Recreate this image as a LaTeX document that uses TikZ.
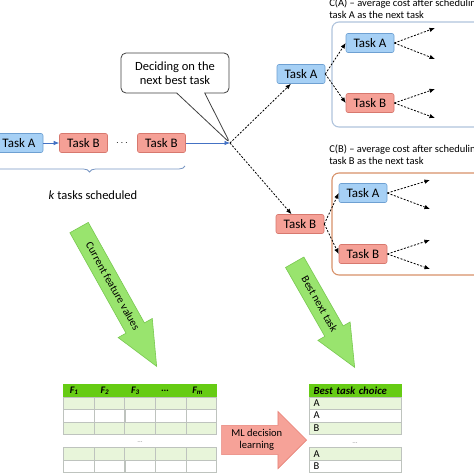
\documentclass[tikz,border=0pt]{standalone}
\usepackage{fontspec}
\setmainfont{Carlito}
\usepackage{tikz}
\usetikzlibrary{arrows, arrows.meta, shapes, matrix, decorations.pathreplacing}

\definecolor{taskblue}{RGB}{166,208,245}
\definecolor{taskblueline}{RGB}{110,160,210}
\definecolor{taskred}{RGB}{245,160,150}
\definecolor{taskredline}{RGB}{215,120,110}
\definecolor{groupaline}{RGB}{175,195,220}
\definecolor{groupbline}{RGB}{215,145,105}
\definecolor{linkblue}{RGB}{68,114,196}
\definecolor{bracecol}{RGB}{120,150,195}
\definecolor{arrowgreen}{RGB}{153,228,110}
\definecolor{arrowgreenline}{RGB}{120,200,80}
\definecolor{hdrgreen}{RGB}{102,204,20}
\definecolor{rowgreen}{RGB}{232,245,218}
\definecolor{gridgray}{RGB}{190,195,190}
\definecolor{mlred}{RGB}{246,162,152}
\definecolor{mlredline}{RGB}{230,130,120}

\begin{document}
\begin{tikzpicture}[x=1pt, y=-1pt, >={Latex[length=5.5pt, width=4.5pt]},
  taska/.style={rectangle, rounded corners=2pt, draw=taskblueline, fill=taskblue,
    minimum width=48pt, minimum height=19pt, inner sep=1pt,
    font=\fontsize{13}{15}\selectfont},
  %
  taskb/.style={taska, draw=taskredline, fill=taskred},
  %
  group/.style={rectangle, rounded corners=7pt, line width=1.1pt,
    minimum width=160pt},
  %
  note/.style={align=left, inner sep=0pt, anchor=north west,
    font=\fontsize{10.5}{12}\selectfont},
  %
  bubble/.style={rectangle callout, rounded corners=5pt, draw=black!75,
    line width=.8pt, fill=white, align=center, minimum width=108pt,
    minimum height=40pt, callout pointer width=28pt,
    font=\fontsize{12.5}{14.5}\selectfont},
  %
  pick/.style={->, black, line width=.8pt, dash pattern=on 2pt off 1.5pt},
  %
  done/.style={->, linkblue, line width=.7pt},
  %
  span/.style={decorate, decoration={brace, mirror, amplitude=6pt},
    draw=bracecol, line width=.8pt},
  %
  bigarrow/.style={single arrow, draw=arrowgreenline, fill=arrowgreen,
    single arrow head extend=9pt, single arrow tip angle=48, text height=7.5pt,
    text depth=2pt, inner ysep=5.5pt, inner xsep=2pt,
    font=\fontsize{11}{12}\selectfont},
  %
  mlarrow/.style={single arrow, draw=mlredline, fill=mlred, align=center,
    single arrow head extend=14pt, inner ysep=3.5pt,
    font=\fontsize{10.5}{12.5}\selectfont},
  %
  cell/.style={draw=gridgray, minimum width=30.6pt, minimum height=12.4pt,
    inner sep=0pt, anchor=center, text width=18pt, align=left,
    font=\fontsize{10.5}{11}\selectfont},
  %
  gap/.style={text=black!45, font=\fontsize{7}{8}\selectfont}
  ]

  \tikzset{every path/.style={line width=.6pt}}
  \useasboundingbox (0,0) rectangle (474,474);

  \begin{scope}
    %%%%%%%%%%%%%%%%%%%%%%%%%%%%%%% scheduled so far
    \node [taska] (a0) at (19,143) {Task A};
    \node [taskb] (b1) at (83.5,143) {Task B};
    \node (dots) at (122,143) {$\cdots$};
    \node [taskb] (bk) at (161.5,143) {Task B};
    \coordinate (dec) at (230,143);
    \coordinate (bl) at (-6,166);
    \coordinate (br) at (185,166);
    \node [font=\fontsize{12.5}{14}\selectfont] (ktasks) at (93,195)
      {\textit{k} tasks scheduled};
    \node [bubble, callout absolute pointer={(dec)}] (decide) at (175,73)
      {Deciding on the\\next best task};
    %%%%%%%%%%%%%%%%%%%%%%%%%%%%%%% next task
    \node [taska] (ta) at (301,74) {Task A};
    \node [taskb] (tb) at (300,224) {Task B};
    %%%%%%%%%%%%%%%%%%%%%%%%%%%%%%% C(A)
    \node [group, draw=groupaline, minimum height=105pt] (ca) at (412,74.5) {};
    \node [note] (calabel) at (329,-1)
      {C(A) -- average cost after scheduling\\task A as the next task};
    \node [taska] (taa) at (370,43) {Task A};
    \node [taskb] (tab) at (370,103) {Task B};
    %%%%%%%%%%%%%%%%%%%%%%%%%%%%%%% C(B)
    \node [group, draw=groupbline, minimum height=102pt] (cb) at (412,224) {};
    \node [note] (cblabel) at (329,145)
      {C(B) -- average cost after scheduling\\task B as the next task};
    \node [taska] (tba) at (363,193) {Task A};
    \node [taskb] (tbb) at (363,254) {Task B};
    %%%%%%%%%%%%%%%%%%%%%%%%%%%%%%% open ends
    \coordinate (taa1) at (435,28);
    \coordinate (taa2) at (435,59);
    \coordinate (tab1) at (435,89);
    \coordinate (tab2) at (435,118);
    \coordinate (tba1) at (430,180);
    \coordinate (tba2) at (430,209);
    \coordinate (tbb1) at (430,240);
    \coordinate (tbb2) at (430,269);
  \end{scope}

  \begin{scope}
    %%%%%%%%%%%%%%%%%%%%%%%%%%%%%%% big arrows
    \node [bigarrow, rotate=-60.8, minimum height=159pt, anchor=tip]
      (features) at (157,367) {Current feature values};
    \node [bigarrow, rotate=-60.3, minimum height=121pt, anchor=tip,
      single arrow head extend=8pt] (best) at (355,368) {Best next task};
    \node [mlarrow, minimum height=85pt, anchor=tip] (learn) at (307,440)
      {ML decision\\learning};
  \end{scope}

  \begin{scope}
    %%%%%%%%%%%%%%%%%%%%%%%%%%%%%%% feature table
    \matrix [matrix of nodes, nodes in empty cells, nodes={cell}, inner sep=0pt,
      column sep=-\pgflinewidth, row sep=-\pgflinewidth, anchor=north west,
      row 1/.style={nodes={fill=hdrgreen, draw=hdrgreen,
          font=\bfseries\itshape\fontsize{10}{11}\selectfont}},
      row 2/.style={nodes={fill=rowgreen}},
      row 4/.style={nodes={fill=rowgreen}}] (feat) at (63,384) {
      F\textsubscript{1} & F\textsubscript{2} & F\textsubscript{3} & \dots &
      F\textsubscript{m} \\
      & & & & \\
      & & & & \\
      & & & & \\
    };
    \node [gap] (featgap) at (140,442) {\dots};
    \matrix [matrix of nodes, nodes in empty cells, nodes={cell}, inner sep=0pt,
      column sep=-\pgflinewidth, row sep=-\pgflinewidth, anchor=north west,
      row 1/.style={nodes={fill=rowgreen}}] (feat2) at (63,447) {
      & & & & \\
      & & & & \\
    };
    %%%%%%%%%%%%%%%%%%%%%%%%%%%%%%% choice table
    \matrix [matrix of nodes, nodes in empty cells,
      nodes={cell, minimum width=92pt, text width=84pt}, inner sep=0pt,
      row sep=-\pgflinewidth, anchor=north west,
      row 1/.style={nodes={fill=hdrgreen, draw=hdrgreen,
          font=\bfseries\itshape\fontsize{10.8}{11}\selectfont}},
      row 2/.style={nodes={fill=rowgreen}},
      row 4/.style={nodes={fill=rowgreen}}] (choice) at (309,384) {
      Best task choice \\
      A \\
      A \\
      B \\
    };
    \node [gap] (choicegap) at (355,443) {\dots};
    \matrix [matrix of nodes, nodes in empty cells,
      nodes={cell, minimum width=92pt, text width=84pt}, inner sep=0pt,
      row sep=-\pgflinewidth, anchor=north west,
      row 1/.style={nodes={fill=rowgreen}}] (choice2) at (309,447) {
      A \\
      B \\
    };
  \end{scope}

  \begin{scope}
    \draw [done] (a0) -- (b1);
    \draw [done] (bk) -- (dec);
    \draw [span] (bl) -- (br);
    \draw [pick] (dec) -- (ta);
    \draw [pick] (dec) -- (tb);
    \draw [pick] (ta.east) -- (taa.west);
    \draw [pick] (ta.east) -- (tab.west);
    \draw [pick] (tb.east) -- (tba.west);
    \draw [pick] (tb.east) -- (tbb.west);
    \draw [pick] (taa.east) -- (taa1);
    \draw [pick] (taa.east) -- (taa2);
    \draw [pick] (tab.east) -- (tab1);
    \draw [pick] (tab.east) -- (tab2);
    \draw [pick] (tba.east) -- (tba1);
    \draw [pick] (tba.east) -- (tba2);
    \draw [pick] (tbb.east) -- (tbb1);
    \draw [pick] (tbb.east) -- (tbb2);
  \end{scope}

\end{tikzpicture}
\end{document}
